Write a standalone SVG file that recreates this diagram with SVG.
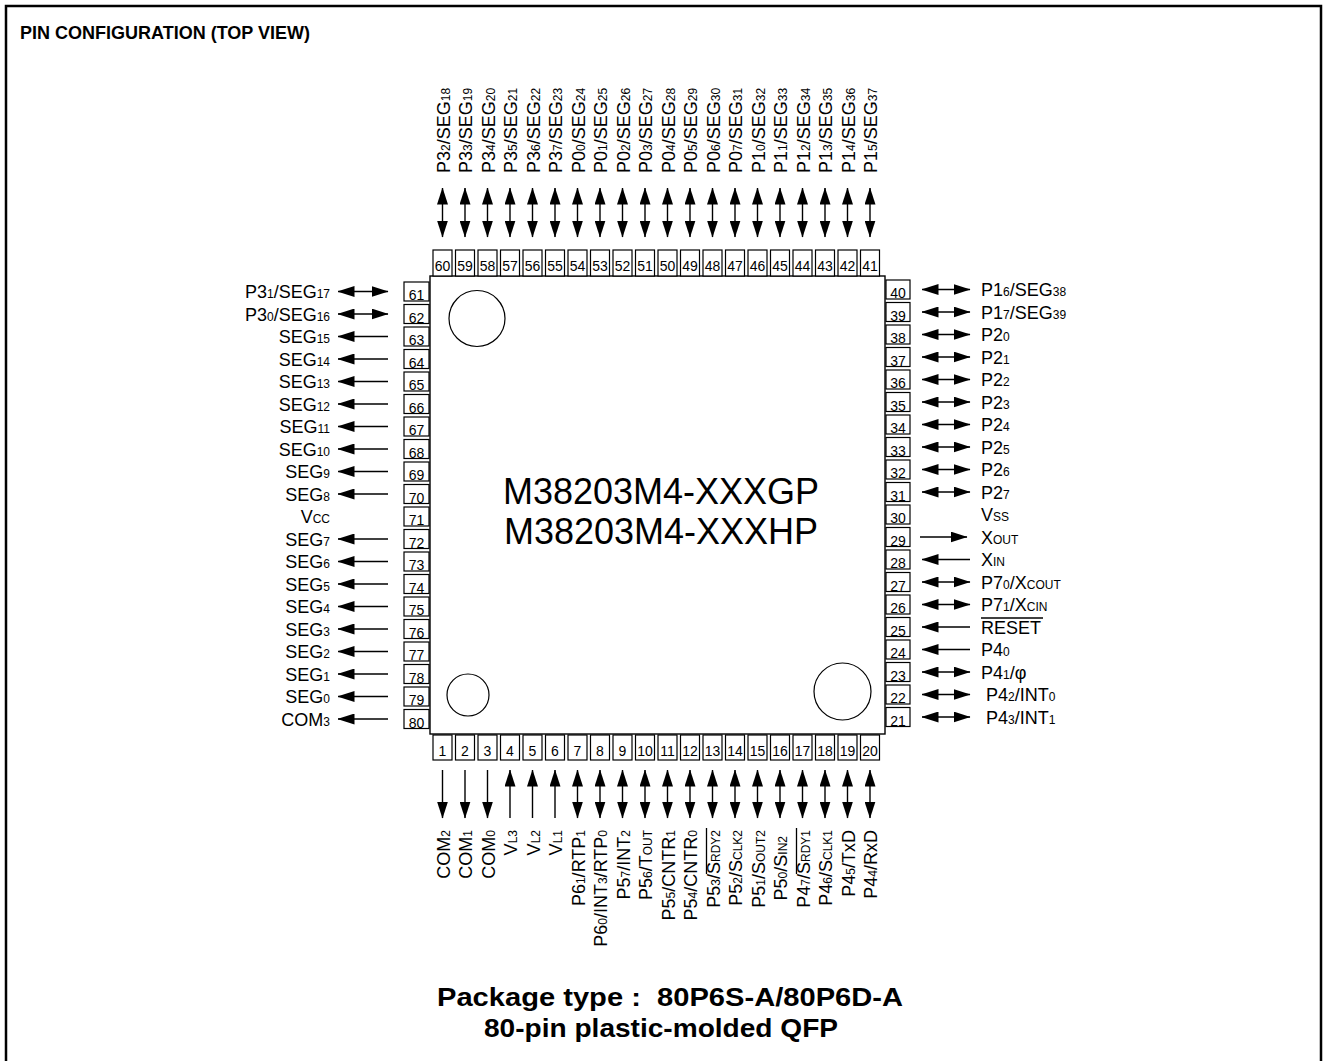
<svg xmlns="http://www.w3.org/2000/svg" width="1324" height="1061" viewBox="0 0 1324 1061">
<style>
text{font-family:"Liberation Sans",Arial,Helvetica,sans-serif;fill:#000}
.t{font-size:18px}
.e{text-anchor:end}
.s{font-size:12px}
.n{font-size:14px;text-anchor:middle}
.bx{fill:#fff;stroke:#000;stroke-width:1.2}
line.w{stroke:#000;stroke-width:1.4;fill:none}
.bi{marker-start:url(#h);marker-end:url(#h)}
.ms{marker-start:url(#h)}
.me{marker-end:url(#h)}
.ol{stroke:#000;stroke-width:1.3}
.bold{font-weight:bold}
</style>
<defs>
<marker id="h" viewBox="0 0 17 11" refX="16.5" refY="5.5" markerWidth="17" markerHeight="11" markerUnits="userSpaceOnUse" orient="auto-start-reverse"><path d="M0,0L17,5.5L0,11z" fill="#000"/></marker>
</defs>
<rect width="1324" height="1061" fill="#fff"/>
<path d="M6,1070V6H1321V1070" fill="none" stroke="#000" stroke-width="2.5"/>
<text class="bold" x="20" y="39" font-size="18">PIN CONFIGURATION (TOP VIEW)</text>

<g id="chip">
<rect x="430" y="276" width="455" height="458" fill="#fff" stroke="#000" stroke-width="1.4"/>
<circle cx="477" cy="318.5" r="28" fill="none" stroke="#000" stroke-width="1.2"/>
<circle cx="468" cy="695" r="21" fill="none" stroke="#000" stroke-width="1.2"/>
<circle cx="842.5" cy="691.5" r="28.5" fill="none" stroke="#000" stroke-width="1.2"/>
<text x="661" y="504" font-size="36" text-anchor="middle">M38203M4-XXXGP</text>
<text x="661" y="544" font-size="36" text-anchor="middle">M38203M4-XXXHP</text>
</g>

<g id="connectors">
<line class="w bi" x1="442.5" y1="188" x2="442.5" y2="237"/>
<line class="w bi" x1="465" y1="188" x2="465" y2="237"/>
<line class="w bi" x1="487.5" y1="188" x2="487.5" y2="237"/>
<line class="w bi" x1="510" y1="188" x2="510" y2="237"/>
<line class="w bi" x1="532.5" y1="188" x2="532.5" y2="237"/>
<line class="w bi" x1="555" y1="188" x2="555" y2="237"/>
<line class="w bi" x1="577.5" y1="188" x2="577.5" y2="237"/>
<line class="w bi" x1="600" y1="188" x2="600" y2="237"/>
<line class="w bi" x1="622.5" y1="188" x2="622.5" y2="237"/>
<line class="w bi" x1="645" y1="188" x2="645" y2="237"/>
<line class="w bi" x1="667.5" y1="188" x2="667.5" y2="237"/>
<line class="w bi" x1="690" y1="188" x2="690" y2="237"/>
<line class="w bi" x1="712.5" y1="188" x2="712.5" y2="237"/>
<line class="w bi" x1="735" y1="188" x2="735" y2="237"/>
<line class="w bi" x1="757.5" y1="188" x2="757.5" y2="237"/>
<line class="w bi" x1="780" y1="188" x2="780" y2="237"/>
<line class="w bi" x1="802.5" y1="188" x2="802.5" y2="237"/>
<line class="w bi" x1="825" y1="188" x2="825" y2="237"/>
<line class="w bi" x1="847.5" y1="188" x2="847.5" y2="237"/>
<line class="w bi" x1="870" y1="188" x2="870" y2="237"/>

<line class="w bi" x1="338" y1="291.5" x2="388" y2="291.5"/>
<line class="w bi" x1="338" y1="314" x2="388" y2="314"/>
<line class="w ms" x1="338" y1="336.5" x2="388" y2="336.5"/>
<line class="w ms" x1="338" y1="359" x2="388" y2="359"/>
<line class="w ms" x1="338" y1="381.5" x2="388" y2="381.5"/>
<line class="w ms" x1="338" y1="404" x2="388" y2="404"/>
<line class="w ms" x1="338" y1="426.5" x2="388" y2="426.5"/>
<line class="w ms" x1="338" y1="449" x2="388" y2="449"/>
<line class="w ms" x1="338" y1="471.5" x2="388" y2="471.5"/>
<line class="w ms" x1="338" y1="494" x2="388" y2="494"/>
<line class="w ms" x1="338" y1="539" x2="388" y2="539"/>
<line class="w ms" x1="338" y1="561.5" x2="388" y2="561.5"/>
<line class="w ms" x1="338" y1="584" x2="388" y2="584"/>
<line class="w ms" x1="338" y1="606.5" x2="388" y2="606.5"/>
<line class="w ms" x1="338" y1="629" x2="388" y2="629"/>
<line class="w ms" x1="338" y1="651.5" x2="388" y2="651.5"/>
<line class="w ms" x1="338" y1="674" x2="388" y2="674"/>
<line class="w ms" x1="338" y1="696.5" x2="388" y2="696.5"/>
<line class="w ms" x1="338" y1="719" x2="388" y2="719"/>

<line class="w bi" x1="922" y1="289.5" x2="970" y2="289.5"/>
<line class="w bi" x1="922" y1="312" x2="970" y2="312"/>
<line class="w bi" x1="922" y1="334.5" x2="970" y2="334.5"/>
<line class="w bi" x1="922" y1="357" x2="970" y2="357"/>
<line class="w bi" x1="922" y1="379.5" x2="970" y2="379.5"/>
<line class="w bi" x1="922" y1="402" x2="970" y2="402"/>
<line class="w bi" x1="922" y1="424.5" x2="970" y2="424.5"/>
<line class="w bi" x1="922" y1="447" x2="970" y2="447"/>
<line class="w bi" x1="922" y1="469.5" x2="970" y2="469.5"/>
<line class="w bi" x1="922" y1="492" x2="970" y2="492"/>
<line class="w me" x1="920" y1="537" x2="967" y2="537"/>
<line class="w ms" x1="922" y1="559.5" x2="970" y2="559.5"/>
<line class="w bi" x1="922" y1="582" x2="970" y2="582"/>
<line class="w bi" x1="922" y1="604.5" x2="970" y2="604.5"/>
<line class="w ms" x1="922" y1="627" x2="970" y2="627"/>
<line class="w ms" x1="922" y1="649.5" x2="970" y2="649.5"/>
<line class="w bi" x1="922" y1="672" x2="970" y2="672"/>
<line class="w bi" x1="922" y1="694.5" x2="970" y2="694.5"/>
<line class="w bi" x1="922" y1="717" x2="970" y2="717"/>

<line class="w me" x1="442.5" y1="770" x2="442.5" y2="818"/>
<line class="w me" x1="465" y1="770" x2="465" y2="818"/>
<line class="w me" x1="487.5" y1="770" x2="487.5" y2="818"/>
<line class="w ms" x1="510" y1="770" x2="510" y2="818"/>
<line class="w ms" x1="532.5" y1="770" x2="532.5" y2="818"/>
<line class="w ms" x1="555" y1="770" x2="555" y2="818"/>
<line class="w bi" x1="577.5" y1="770" x2="577.5" y2="818"/>
<line class="w bi" x1="600" y1="770" x2="600" y2="818"/>
<line class="w bi" x1="622.5" y1="770" x2="622.5" y2="818"/>
<line class="w bi" x1="645" y1="770" x2="645" y2="818"/>
<line class="w bi" x1="667.5" y1="770" x2="667.5" y2="818"/>
<line class="w bi" x1="690" y1="770" x2="690" y2="818"/>
<line class="w bi" x1="712.5" y1="770" x2="712.5" y2="818"/>
<line class="w bi" x1="735" y1="770" x2="735" y2="818"/>
<line class="w bi" x1="757.5" y1="770" x2="757.5" y2="818"/>
<line class="w bi" x1="780" y1="770" x2="780" y2="818"/>
<line class="w bi" x1="802.5" y1="770" x2="802.5" y2="818"/>
<line class="w bi" x1="825" y1="770" x2="825" y2="818"/>
<line class="w bi" x1="847.5" y1="770" x2="847.5" y2="818"/>
<line class="w bi" x1="870" y1="770" x2="870" y2="818"/>
</g>

<!-- top pins -->
<g id="pin60"><rect class="bx" x="433" y="250" width="19" height="26"/><text class="n" x="442.5" y="271">60</text><text class="t" transform="translate(449.5,173) rotate(-90)">P3<tspan class="s">2</tspan>/SEG<tspan class="s">18</tspan></text></g>
<g id="pin59"><rect class="bx" x="455.5" y="250" width="19" height="26"/><text class="n" x="465" y="271">59</text><text class="t" transform="translate(472,173) rotate(-90)">P3<tspan class="s">3</tspan>/SEG<tspan class="s">19</tspan></text></g>
<g id="pin58"><rect class="bx" x="478" y="250" width="19" height="26"/><text class="n" x="487.5" y="271">58</text><text class="t" transform="translate(494.5,173) rotate(-90)">P3<tspan class="s">4</tspan>/SEG<tspan class="s">20</tspan></text></g>
<g id="pin57"><rect class="bx" x="500.5" y="250" width="19" height="26"/><text class="n" x="510" y="271">57</text><text class="t" transform="translate(517,173) rotate(-90)">P3<tspan class="s">5</tspan>/SEG<tspan class="s">21</tspan></text></g>
<g id="pin56"><rect class="bx" x="523" y="250" width="19" height="26"/><text class="n" x="532.5" y="271">56</text><text class="t" transform="translate(539.5,173) rotate(-90)">P3<tspan class="s">6</tspan>/SEG<tspan class="s">22</tspan></text></g>
<g id="pin55"><rect class="bx" x="545.5" y="250" width="19" height="26"/><text class="n" x="555" y="271">55</text><text class="t" transform="translate(562,173) rotate(-90)">P3<tspan class="s">7</tspan>/SEG<tspan class="s">23</tspan></text></g>
<g id="pin54"><rect class="bx" x="568" y="250" width="19" height="26"/><text class="n" x="577.5" y="271">54</text><text class="t" transform="translate(584.5,173) rotate(-90)">P0<tspan class="s">0</tspan>/SEG<tspan class="s">24</tspan></text></g>
<g id="pin53"><rect class="bx" x="590.5" y="250" width="19" height="26"/><text class="n" x="600" y="271">53</text><text class="t" transform="translate(607,173) rotate(-90)">P0<tspan class="s">1</tspan>/SEG<tspan class="s">25</tspan></text></g>
<g id="pin52"><rect class="bx" x="613" y="250" width="19" height="26"/><text class="n" x="622.5" y="271">52</text><text class="t" transform="translate(629.5,173) rotate(-90)">P0<tspan class="s">2</tspan>/SEG<tspan class="s">26</tspan></text></g>
<g id="pin51"><rect class="bx" x="635.5" y="250" width="19" height="26"/><text class="n" x="645" y="271">51</text><text class="t" transform="translate(652,173) rotate(-90)">P0<tspan class="s">3</tspan>/SEG<tspan class="s">27</tspan></text></g>
<g id="pin50"><rect class="bx" x="658" y="250" width="19" height="26"/><text class="n" x="667.5" y="271">50</text><text class="t" transform="translate(674.5,173) rotate(-90)">P0<tspan class="s">4</tspan>/SEG<tspan class="s">28</tspan></text></g>
<g id="pin49"><rect class="bx" x="680.5" y="250" width="19" height="26"/><text class="n" x="690" y="271">49</text><text class="t" transform="translate(697,173) rotate(-90)">P0<tspan class="s">5</tspan>/SEG<tspan class="s">29</tspan></text></g>
<g id="pin48"><rect class="bx" x="703" y="250" width="19" height="26"/><text class="n" x="712.5" y="271">48</text><text class="t" transform="translate(719.5,173) rotate(-90)">P0<tspan class="s">6</tspan>/SEG<tspan class="s">30</tspan></text></g>
<g id="pin47"><rect class="bx" x="725.5" y="250" width="19" height="26"/><text class="n" x="735" y="271">47</text><text class="t" transform="translate(742,173) rotate(-90)">P0<tspan class="s">7</tspan>/SEG<tspan class="s">31</tspan></text></g>
<g id="pin46"><rect class="bx" x="748" y="250" width="19" height="26"/><text class="n" x="757.5" y="271">46</text><text class="t" transform="translate(764.5,173) rotate(-90)">P1<tspan class="s">0</tspan>/SEG<tspan class="s">32</tspan></text></g>
<g id="pin45"><rect class="bx" x="770.5" y="250" width="19" height="26"/><text class="n" x="780" y="271">45</text><text class="t" transform="translate(787,173) rotate(-90)">P1<tspan class="s">1</tspan>/SEG<tspan class="s">33</tspan></text></g>
<g id="pin44"><rect class="bx" x="793" y="250" width="19" height="26"/><text class="n" x="802.5" y="271">44</text><text class="t" transform="translate(809.5,173) rotate(-90)">P1<tspan class="s">2</tspan>/SEG<tspan class="s">34</tspan></text></g>
<g id="pin43"><rect class="bx" x="815.5" y="250" width="19" height="26"/><text class="n" x="825" y="271">43</text><text class="t" transform="translate(832,173) rotate(-90)">P1<tspan class="s">3</tspan>/SEG<tspan class="s">35</tspan></text></g>
<g id="pin42"><rect class="bx" x="838" y="250" width="19" height="26"/><text class="n" x="847.5" y="271">42</text><text class="t" transform="translate(854.5,173) rotate(-90)">P1<tspan class="s">4</tspan>/SEG<tspan class="s">36</tspan></text></g>
<g id="pin41"><rect class="bx" x="860.5" y="250" width="19" height="26"/><text class="n" x="870" y="271">41</text><text class="t" transform="translate(877,173) rotate(-90)">P1<tspan class="s">5</tspan>/SEG<tspan class="s">37</tspan></text></g>

<!-- left pins -->
<g id="pin61"><rect class="bx" x="404" y="282" width="25" height="19"/><text class="n" x="416.5" y="300">61</text><text class="t e" x="330" y="298">P3<tspan class="s">1</tspan>/SEG<tspan class="s">17</tspan></text></g>
<g id="pin62"><rect class="bx" x="404" y="304.5" width="25" height="19"/><text class="n" x="416.5" y="322.5">62</text><text class="t e" x="330" y="320.5">P3<tspan class="s">0</tspan>/SEG<tspan class="s">16</tspan></text></g>
<g id="pin63"><rect class="bx" x="404" y="327" width="25" height="19"/><text class="n" x="416.5" y="345">63</text><text class="t e" x="330" y="343">SEG<tspan class="s">15</tspan></text></g>
<g id="pin64"><rect class="bx" x="404" y="349.5" width="25" height="19"/><text class="n" x="416.5" y="367.5">64</text><text class="t e" x="330" y="365.5">SEG<tspan class="s">14</tspan></text></g>
<g id="pin65"><rect class="bx" x="404" y="372" width="25" height="19"/><text class="n" x="416.5" y="390">65</text><text class="t e" x="330" y="388">SEG<tspan class="s">13</tspan></text></g>
<g id="pin66"><rect class="bx" x="404" y="394.5" width="25" height="19"/><text class="n" x="416.5" y="412.5">66</text><text class="t e" x="330" y="410.5">SEG<tspan class="s">12</tspan></text></g>
<g id="pin67"><rect class="bx" x="404" y="417" width="25" height="19"/><text class="n" x="416.5" y="435">67</text><text class="t e" x="330" y="433">SEG<tspan class="s">11</tspan></text></g>
<g id="pin68"><rect class="bx" x="404" y="439.5" width="25" height="19"/><text class="n" x="416.5" y="457.5">68</text><text class="t e" x="330" y="455.5">SEG<tspan class="s">10</tspan></text></g>
<g id="pin69"><rect class="bx" x="404" y="462" width="25" height="19"/><text class="n" x="416.5" y="480">69</text><text class="t e" x="330" y="478">SEG<tspan class="s">9</tspan></text></g>
<g id="pin70"><rect class="bx" x="404" y="484.5" width="25" height="19"/><text class="n" x="416.5" y="502.5">70</text><text class="t e" x="330" y="500.5">SEG<tspan class="s">8</tspan></text></g>
<g id="pin71"><rect class="bx" x="404" y="507" width="25" height="19"/><text class="n" x="416.5" y="525">71</text><text class="t e" x="330" y="523">V<tspan class="s">CC</tspan></text></g>
<g id="pin72"><rect class="bx" x="404" y="529.5" width="25" height="19"/><text class="n" x="416.5" y="547.5">72</text><text class="t e" x="330" y="545.5">SEG<tspan class="s">7</tspan></text></g>
<g id="pin73"><rect class="bx" x="404" y="552" width="25" height="19"/><text class="n" x="416.5" y="570">73</text><text class="t e" x="330" y="568">SEG<tspan class="s">6</tspan></text></g>
<g id="pin74"><rect class="bx" x="404" y="574.5" width="25" height="19"/><text class="n" x="416.5" y="592.5">74</text><text class="t e" x="330" y="590.5">SEG<tspan class="s">5</tspan></text></g>
<g id="pin75"><rect class="bx" x="404" y="597" width="25" height="19"/><text class="n" x="416.5" y="615">75</text><text class="t e" x="330" y="613">SEG<tspan class="s">4</tspan></text></g>
<g id="pin76"><rect class="bx" x="404" y="619.5" width="25" height="19"/><text class="n" x="416.5" y="637.5">76</text><text class="t e" x="330" y="635.5">SEG<tspan class="s">3</tspan></text></g>
<g id="pin77"><rect class="bx" x="404" y="642" width="25" height="19"/><text class="n" x="416.5" y="660">77</text><text class="t e" x="330" y="658">SEG<tspan class="s">2</tspan></text></g>
<g id="pin78"><rect class="bx" x="404" y="664.5" width="25" height="19"/><text class="n" x="416.5" y="682.5">78</text><text class="t e" x="330" y="680.5">SEG<tspan class="s">1</tspan></text></g>
<g id="pin79"><rect class="bx" x="404" y="687" width="25" height="19"/><text class="n" x="416.5" y="705">79</text><text class="t e" x="330" y="703">SEG<tspan class="s">0</tspan></text></g>
<g id="pin80"><rect class="bx" x="404" y="709.5" width="25" height="19"/><text class="n" x="416.5" y="727.5">80</text><text class="t e" x="330" y="725.5">COM<tspan class="s">3</tspan></text></g>

<!-- right pins -->
<g id="pin40"><rect class="bx" x="886" y="280" width="24" height="19"/><text class="n" x="898" y="298">40</text><text class="t" x="981" y="296">P1<tspan class="s">6</tspan>/SEG<tspan class="s">38</tspan></text></g>
<g id="pin39"><rect class="bx" x="886" y="302.5" width="24" height="19"/><text class="n" x="898" y="320.5">39</text><text class="t" x="981" y="318.5">P1<tspan class="s">7</tspan>/SEG<tspan class="s">39</tspan></text></g>
<g id="pin38"><rect class="bx" x="886" y="325" width="24" height="19"/><text class="n" x="898" y="343">38</text><text class="t" x="981" y="341">P2<tspan class="s">0</tspan></text></g>
<g id="pin37"><rect class="bx" x="886" y="347.5" width="24" height="19"/><text class="n" x="898" y="365.5">37</text><text class="t" x="981" y="363.5">P2<tspan class="s">1</tspan></text></g>
<g id="pin36"><rect class="bx" x="886" y="370" width="24" height="19"/><text class="n" x="898" y="388">36</text><text class="t" x="981" y="386">P2<tspan class="s">2</tspan></text></g>
<g id="pin35"><rect class="bx" x="886" y="392.5" width="24" height="19"/><text class="n" x="898" y="410.5">35</text><text class="t" x="981" y="408.5">P2<tspan class="s">3</tspan></text></g>
<g id="pin34"><rect class="bx" x="886" y="415" width="24" height="19"/><text class="n" x="898" y="433">34</text><text class="t" x="981" y="431">P2<tspan class="s">4</tspan></text></g>
<g id="pin33"><rect class="bx" x="886" y="437.5" width="24" height="19"/><text class="n" x="898" y="455.5">33</text><text class="t" x="981" y="453.5">P2<tspan class="s">5</tspan></text></g>
<g id="pin32"><rect class="bx" x="886" y="460" width="24" height="19"/><text class="n" x="898" y="478">32</text><text class="t" x="981" y="476">P2<tspan class="s">6</tspan></text></g>
<g id="pin31"><rect class="bx" x="886" y="482.5" width="24" height="19"/><text class="n" x="898" y="500.5">31</text><text class="t" x="981" y="498.5">P2<tspan class="s">7</tspan></text></g>
<g id="pin30"><rect class="bx" x="886" y="505" width="24" height="19"/><text class="n" x="898" y="523">30</text><text class="t" x="981" y="521">V<tspan class="s">SS</tspan></text></g>
<g id="pin29"><rect class="bx" x="886" y="527.5" width="24" height="19"/><text class="n" x="898" y="545.5">29</text><text class="t" x="981" y="543.5">X<tspan class="s">OUT</tspan></text></g>
<g id="pin28"><rect class="bx" x="886" y="550" width="24" height="19"/><text class="n" x="898" y="568">28</text><text class="t" x="981" y="566">X<tspan class="s">IN</tspan></text></g>
<g id="pin27"><rect class="bx" x="886" y="572.5" width="24" height="19"/><text class="n" x="898" y="590.5">27</text><text class="t" x="981" y="588.5">P7<tspan class="s">0</tspan>/X<tspan class="s">COUT</tspan></text></g>
<g id="pin26"><rect class="bx" x="886" y="595" width="24" height="19"/><text class="n" x="898" y="613">26</text><text class="t" x="981" y="611">P7<tspan class="s">1</tspan>/X<tspan class="s">CIN</tspan></text></g>
<g id="pin25"><rect class="bx" x="886" y="617.5" width="24" height="19"/><text class="n" x="898" y="635.5">25</text><text class="t" x="981" y="633.5">RESET</text><line class="ol" x1="981" y1="618" x2="1043" y2="618"/></g>
<g id="pin24"><rect class="bx" x="886" y="640" width="24" height="19"/><text class="n" x="898" y="658">24</text><text class="t" x="981" y="656">P4<tspan class="s">0</tspan></text></g>
<g id="pin23"><rect class="bx" x="886" y="662.5" width="24" height="19"/><text class="n" x="898" y="680.5">23</text><text class="t" x="981" y="678.5">P4<tspan class="s">1</tspan>/φ</text></g>
<g id="pin22"><rect class="bx" x="886" y="685" width="24" height="19"/><text class="n" x="898" y="703">22</text><text class="t" x="986" y="701">P4<tspan class="s">2</tspan>/INT<tspan class="s">0</tspan></text></g>
<g id="pin21"><rect class="bx" x="886" y="707.5" width="24" height="19"/><text class="n" x="898" y="725.5">21</text><text class="t" x="986" y="723.5">P4<tspan class="s">3</tspan>/INT<tspan class="s">1</tspan></text></g>

<!-- bottom pins -->
<g id="pin1"><rect class="bx" x="433" y="735" width="19" height="25"/><text class="n" x="442.5" y="756">1</text><text class="t e" transform="translate(449.5,830) rotate(-90)">COM<tspan class="s">2</tspan></text></g>
<g id="pin2"><rect class="bx" x="455.5" y="735" width="19" height="25"/><text class="n" x="465" y="756">2</text><text class="t e" transform="translate(472,830) rotate(-90)">COM<tspan class="s">1</tspan></text></g>
<g id="pin3"><rect class="bx" x="478" y="735" width="19" height="25"/><text class="n" x="487.5" y="756">3</text><text class="t e" transform="translate(494.5,830) rotate(-90)">COM<tspan class="s">0</tspan></text></g>
<g id="pin4"><rect class="bx" x="500.5" y="735" width="19" height="25"/><text class="n" x="510" y="756">4</text><text class="t e" transform="translate(517,830) rotate(-90)">V<tspan class="s">L3</tspan></text></g>
<g id="pin5"><rect class="bx" x="523" y="735" width="19" height="25"/><text class="n" x="532.5" y="756">5</text><text class="t e" transform="translate(539.5,830) rotate(-90)">V<tspan class="s">L2</tspan></text></g>
<g id="pin6"><rect class="bx" x="545.5" y="735" width="19" height="25"/><text class="n" x="555" y="756">6</text><text class="t e" transform="translate(562,830) rotate(-90)">V<tspan class="s">L1</tspan></text></g>
<g id="pin7"><rect class="bx" x="568" y="735" width="19" height="25"/><text class="n" x="577.5" y="756">7</text><text class="t e" transform="translate(584.5,830) rotate(-90)">P6<tspan class="s">1</tspan>/RTP<tspan class="s">1</tspan></text></g>
<g id="pin8"><rect class="bx" x="590.5" y="735" width="19" height="25"/><text class="n" x="600" y="756">8</text><text class="t e" transform="translate(607,830) rotate(-90)">P6<tspan class="s">0</tspan>/INT<tspan class="s">3</tspan>/RTP<tspan class="s">0</tspan></text></g>
<g id="pin9"><rect class="bx" x="613" y="735" width="19" height="25"/><text class="n" x="622.5" y="756">9</text><text class="t e" transform="translate(629.5,830) rotate(-90)">P5<tspan class="s">7</tspan>/INT<tspan class="s">2</tspan></text></g>
<g id="pin10"><rect class="bx" x="635.5" y="735" width="19" height="25"/><text class="n" x="645" y="756">10</text><text class="t e" transform="translate(652,830) rotate(-90)">P5<tspan class="s">6</tspan>/T<tspan class="s">OUT</tspan></text></g>
<g id="pin11"><rect class="bx" x="658" y="735" width="19" height="25"/><text class="n" x="667.5" y="756">11</text><text class="t e" transform="translate(674.5,830) rotate(-90)">P5<tspan class="s">5</tspan>/CNTR<tspan class="s">1</tspan></text></g>
<g id="pin12"><rect class="bx" x="680.5" y="735" width="19" height="25"/><text class="n" x="690" y="756">12</text><text class="t e" transform="translate(697,830) rotate(-90)">P5<tspan class="s">4</tspan>/CNTR<tspan class="s">0</tspan></text></g>
<g id="pin13"><rect class="bx" x="703" y="735" width="19" height="25"/><text class="n" x="712.5" y="756">13</text><g transform="translate(719.5,830) rotate(-90)"><text class="t e">P5<tspan class="s">3</tspan>/S<tspan class="s">RDY2</tspan></text><line class="ol" x1="-44" y1="-13" x2="2" y2="-13"/></g></g>
<g id="pin14"><rect class="bx" x="725.5" y="735" width="19" height="25"/><text class="n" x="735" y="756">14</text><text class="t e" transform="translate(742,830) rotate(-90)">P5<tspan class="s">2</tspan>/S<tspan class="s">CLK2</tspan></text></g>
<g id="pin15"><rect class="bx" x="748" y="735" width="19" height="25"/><text class="n" x="757.5" y="756">15</text><text class="t e" transform="translate(764.5,830) rotate(-90)">P5<tspan class="s">1</tspan>/S<tspan class="s">OUT2</tspan></text></g>
<g id="pin16"><rect class="bx" x="770.5" y="735" width="19" height="25"/><text class="n" x="780" y="756">16</text><text class="t e" transform="translate(787,836) rotate(-90)">P5<tspan class="s">0</tspan>/S<tspan class="s">IN2</tspan></text></g>
<g id="pin17"><rect class="bx" x="793" y="735" width="19" height="25"/><text class="n" x="802.5" y="756">17</text><g transform="translate(809.5,830) rotate(-90)"><text class="t e">P4<tspan class="s">7</tspan>/S<tspan class="s">RDY1</tspan></text><line class="ol" x1="-44" y1="-13" x2="2" y2="-13"/></g></g>
<g id="pin18"><rect class="bx" x="815.5" y="735" width="19" height="25"/><text class="n" x="825" y="756">18</text><text class="t e" transform="translate(832,830) rotate(-90)">P4<tspan class="s">6</tspan>/S<tspan class="s">CLK1</tspan></text></g>
<g id="pin19"><rect class="bx" x="838" y="735" width="19" height="25"/><text class="n" x="847.5" y="756">19</text><text class="t e" transform="translate(854.5,830) rotate(-90)">P4<tspan class="s">5</tspan>/TxD</text></g>
<g id="pin20"><rect class="bx" x="860.5" y="735" width="19" height="25"/><text class="n" x="870" y="756">20</text><text class="t e" transform="translate(877,830) rotate(-90)">P4<tspan class="s">4</tspan>/RxD</text></g>

<g id="package">
<text class="bold" x="670" y="1006" font-size="25" text-anchor="middle" style="white-space:pre" textLength="466" lengthAdjust="spacingAndGlyphs">Package type :  80P6S-A/80P6D-A</text>
<text class="bold" x="661" y="1037" font-size="25" text-anchor="middle" textLength="354" lengthAdjust="spacingAndGlyphs">80-pin plastic-molded QFP</text>
</g>
</svg>
